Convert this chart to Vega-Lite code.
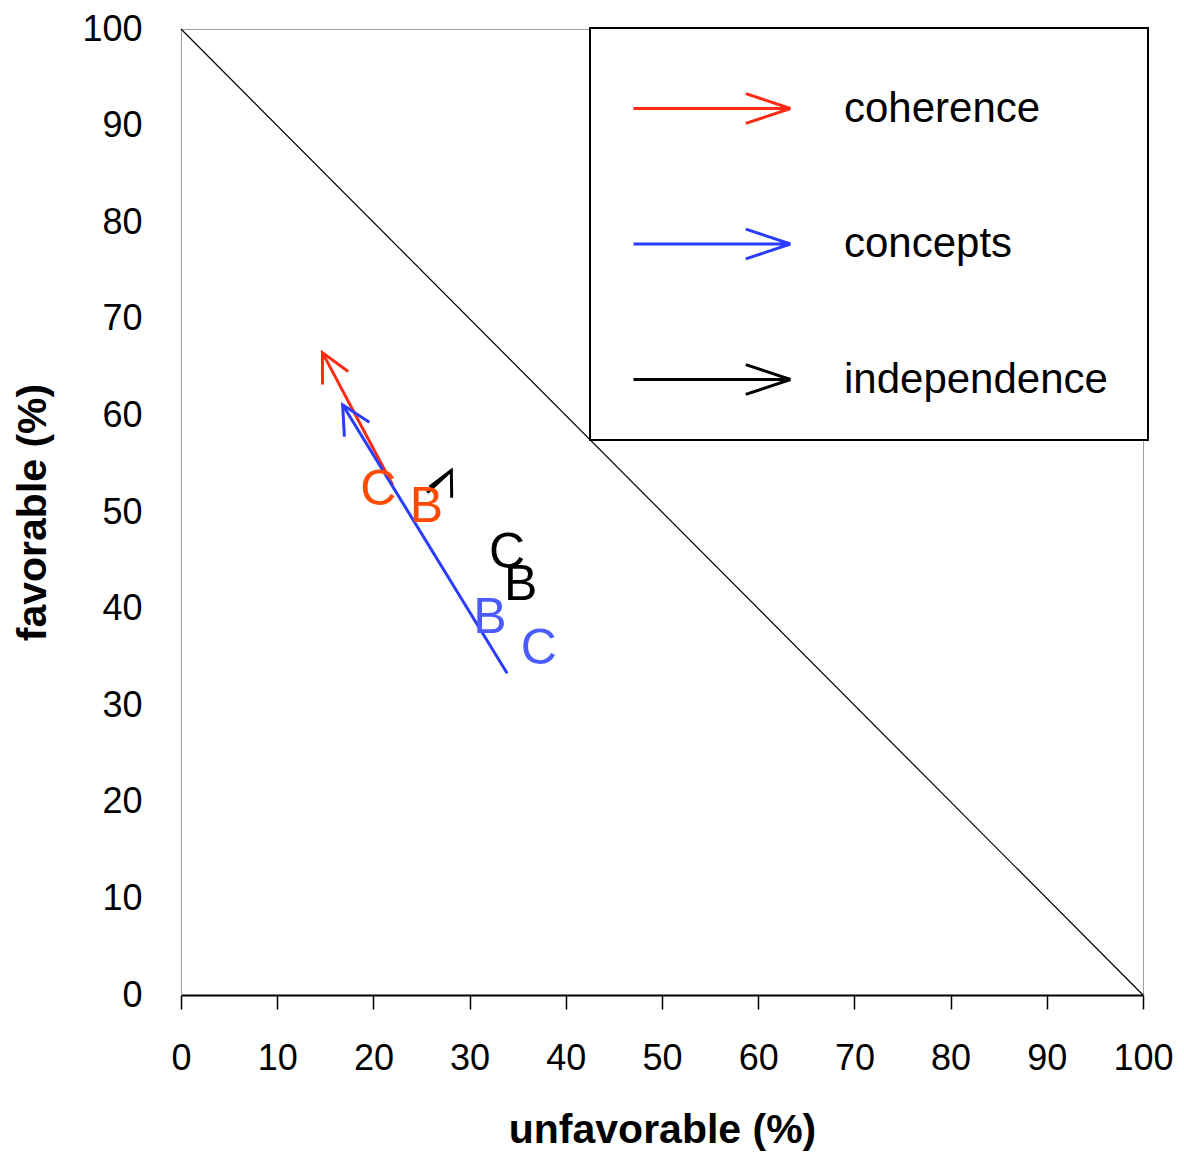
{
  "$schema": "https://vega.github.io/schema/vega-lite/v6.json",
  "width": 962,
  "height": 966,
  "autosize": {"type": "none"},
  "padding": {"left": 181, "top": 29, "right": 41, "bottom": 159},
  "background": "white",
  "config": {
    "font": "Liberation Sans",
    "view": {"stroke": "#a0a0a0", "strokeWidth": 1},
    "legend": {"strokeWidth": 2}
  },
  "datasets": {
    "diag": [{"u": 0, "f": 100}, {"u": 100, "f": 0}],
    "arrows": [
      {"series": "coherence", "x_start": 22.0, "y_start": 52.8, "x_end": 14.7, "y_end": 66.5},
      {"series": "concepts", "x_start": 33.9, "y_start": 33.3, "x_end": 16.8, "y_end": 61.1},
      {"series": "independence", "x_start": 25.6, "y_start": 52.0, "x_end": 28.1, "y_end": 54.3}
    ],
    "labels": [
      {"series": "coherence", "label": "C", "x": 20.5, "y": 52.3},
      {"series": "coherence", "label": "B", "x": 25.5, "y": 50.5},
      {"series": "independence", "label": "C", "x": 33.9, "y": 45.8},
      {"series": "independence", "label": "B", "x": 35.3, "y": 42.4},
      {"series": "concepts", "label": "B", "x": 32.1, "y": 39.0},
      {"series": "concepts", "label": "C", "x": 37.2, "y": 35.8}
    ]
  },
  "layer": [
    {
      "data": {"name": "diag"},
      "mark": {"type": "line", "color": "black", "strokeWidth": 1.2},
      "encoding": {
        "x": {
          "field": "u", "type": "quantitative",
          "scale": {"domain": [0, 100], "nice": false},
          "axis": {
            "title": "unfavorable (%)",
            "values": [0, 10, 20, 30, 40, 50, 60, 70, 80, 90, 100],
            "grid": false,
            "domainColor": "black", "domainWidth": 2,
            "tickColor": "black", "tickWidth": 1.5, "tickSize": 14,
            "labelFontSize": 36, "labelColor": "black", "labelPadding": 32,
            "labelFlush": false, "labelOverlap": false,
            "titleFontSize": 41, "titleFontWeight": "bold", "titleColor": "black", "titlePadding": 34
          }
        },
        "y": {
          "field": "f", "type": "quantitative",
          "scale": {"domain": [0, 100], "nice": false},
          "axis": {
            "title": "favorable (%)",
            "values": [0, 10, 20, 30, 40, 50, 60, 70, 80, 90, 100],
            "grid": false,
            "domainColor": "#a0a0a0", "domainWidth": 1,
            "ticks": false, "tickSize": 0,
            "labelFontSize": 36, "labelColor": "black", "labelPadding": 39,
            "labelFlush": false, "labelOverlap": false,
            "titleFontSize": 41, "titleFontWeight": "bold", "titleColor": "black", "titlePadding": 27
          }
        }
      }
    },
    {
      "data": {"name": "arrows"},
      "mark": {"type": "rule", "strokeWidth": 3},
      "encoding": {
        "x": {"field": "x_start", "type": "quantitative"},
        "y": {"field": "y_start", "type": "quantitative"},
        "x2": {"field": "x_end"},
        "y2": {"field": "y_end"},
        "color": {
          "field": "series", "type": "nominal",
          "scale": {"domain": ["coherence", "concepts", "independence"], "range": ["#ff2a14", "#2a3cff", "#000000"]},
          "legend": {
            "orient": "none", "legendX": 409, "legendY": -1,
            "title": null,
            "symbolType": "M-2,0L2,0M0.86,-0.38L2,0M0.86,0.38L2,0",
            "symbolSize": 6162,
            "symbolStrokeWidth": 3,
            "symbolFillColor": "transparent",
            "symbolOpacity": 1,
            "symbolOffset": 41.5,
            "labelFontSize": 42, "labelColor": "black", "labelOffset": 91, "labelLimit": 500,
            "padding": 39.5, "rowPadding": 73.5,
            "strokeColor": "black", "fillColor": "white", "cornerRadius": 0
          }
        }
      }
    },
    {
      "data": {"name": "arrows"},
      "transform": [{"filter": "datum.series === 'coherence'"}],
      "mark": {"type": "point", "shape": "M-0.45,0.89L0,0L0.45,0.89", "filled": false, "strokeWidth": 3, "size": 4096, "opacity": 1, "angle": 333, "color": "#ff2a14"},
      "encoding": {
        "x": {"field": "x_end", "type": "quantitative"},
        "y": {"field": "y_end", "type": "quantitative"}
      }
    },
    {
      "data": {"name": "arrows"},
      "transform": [{"filter": "datum.series === 'concepts'"}],
      "mark": {"type": "point", "shape": "M-0.45,0.89L0,0L0.45,0.89", "filled": false, "strokeWidth": 3, "size": 4096, "opacity": 1, "angle": 330, "color": "#2a3cff"},
      "encoding": {
        "x": {"field": "x_end", "type": "quantitative"},
        "y": {"field": "y_end", "type": "quantitative"}
      }
    },
    {
      "data": {"name": "arrows"},
      "transform": [{"filter": "datum.series === 'independence'"}],
      "mark": {"type": "point", "shape": "M-0.45,0.89L0,0L0.45,0.89", "filled": false, "strokeWidth": 3, "size": 3000, "opacity": 1, "angle": 26, "color": "#000000"},
      "encoding": {
        "x": {"field": "x_end", "type": "quantitative"},
        "y": {"field": "y_end", "type": "quantitative"}
      }
    },
    {
      "data": {"name": "labels"},
      "mark": {"type": "text", "fontSize": 50, "font": "Liberation Sans", "align": "center", "baseline": "middle"},
      "encoding": {
        "x": {"field": "x", "type": "quantitative"},
        "y": {"field": "y", "type": "quantitative"},
        "text": {"field": "label", "type": "nominal"},
        "fill": {
          "field": "series", "type": "nominal",
          "scale": {"domain": ["coherence", "concepts", "independence"], "range": ["#ff4a00", "#4a5cff", "#000000"]},
          "legend": null
        }
      }
    }
  ]
}
